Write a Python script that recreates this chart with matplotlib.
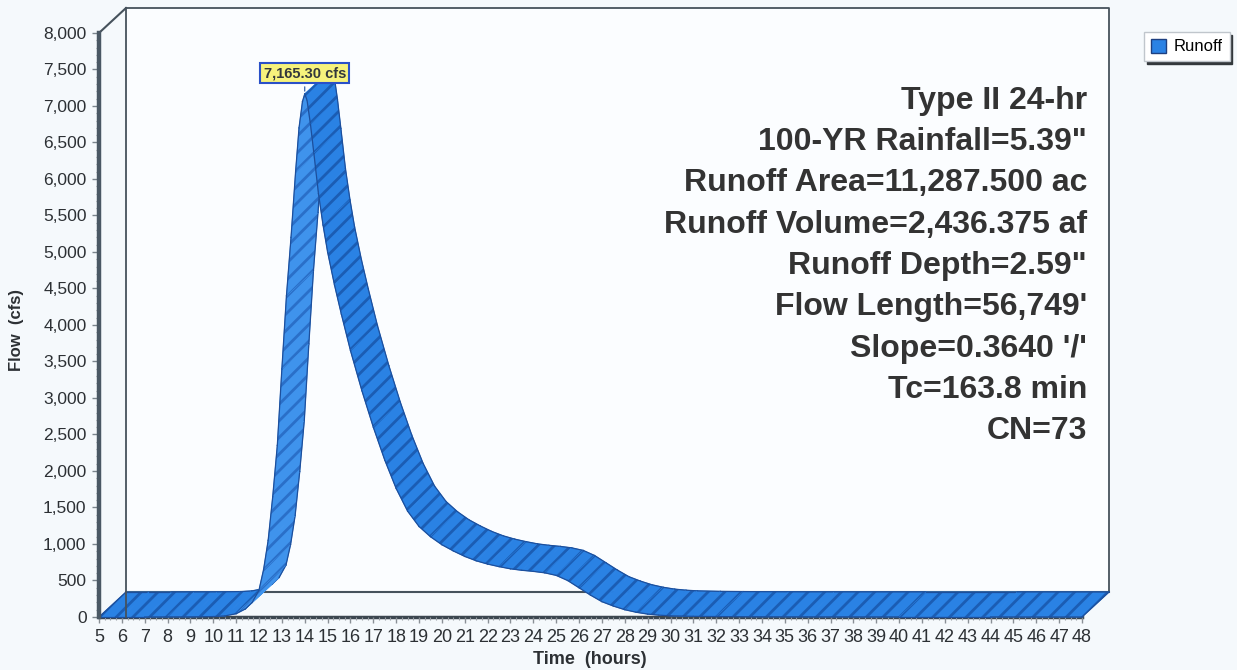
import numpy as np
import matplotlib
matplotlib.use("Agg")
import matplotlib.pyplot as plt
from matplotlib.patches import Polygon, Patch

plt.rcParams["font.family"] = ["Liberation Sans", "DejaVu Sans"]
plt.rcParams["hatch.linewidth"] = 2.0

# runoff hydrograph (front edge of the ribbon)
hours = [5, 6, 7, 8, 9, 10, 10.5, 11, 11.4, 11.7, 12.0, 12.2, 12.4, 12.6, 12.8,
         13.0, 13.2, 13.4, 13.6, 13.75, 13.9, 14.0, 14.1, 14.25, 14.4, 14.6, 14.8,
         15.0, 15.3, 15.6, 16.0, 16.5, 17.0, 17.5, 18.0, 18.5, 19.0, 19.5, 20.0,
         20.5, 21.0, 21.5, 22.0, 22.5, 23.0, 23.5, 24.0, 24.5, 25.0, 25.5, 26.0,
         26.5, 27.0, 27.5, 28.0, 28.5, 29.0, 29.5, 30.0, 31.0, 32.0, 34.0, 36.0,
         40.0, 44.0, 48.0]
flow = [0, 0, 0, 1, 2, 6, 15, 45, 110, 200, 370, 650, 1050, 1650, 2350,
        3400, 4400, 5200, 6100, 6700, 7060, 7165.30, 7080, 6750, 6350, 5800, 5370,
        5000, 4550, 4150, 3650, 3100, 2600, 2150, 1760, 1450, 1240, 1100, 990,
        905, 830, 770, 725, 690, 660, 640, 625, 605, 570, 500, 400,
        300, 210, 150, 100, 65, 40, 25, 16, 9, 6, 3, 2,
        1, 1, 0]

x_ticks = list(range(5, 49))
y_ticks = list(range(0, 8001, 500))

info_lines = [
    "Type II 24-hr",
    '100-YR Rainfall=5.39"',
    "Runoff Area=11,287.500 ac",
    "Runoff Volume=2,436.375 af",
    'Runoff Depth=2.59"',
    "Flow Length=56,749'",
    "Slope=0.3640 '/'",
    "Tc=163.8 min",
    "CN=73",
]

# depth of the 3d ribbon in data units
DX, DY = 1.18, 342

W, H = 1237, 670
fig = plt.figure(figsize=(W / 100, H / 100), dpi=100)
fig.patch.set_facecolor("#f5f9fc")

ax = fig.add_axes([99 / W, 53 / H, 1010 / W, 609 / H])
ax.set_xlim(5, 48 + DX)
ax.set_ylim(0, 8000 + DY)
ax.set_facecolor("none")
for s in ax.spines.values():
    s.set_visible(False)

frame = "#46525c"
x0, x1 = 5, 48

# back wall
ax.add_patch(Polygon([(x0 + DX, DY), (x1 + DX, DY), (x1 + DX, 8000 + DY), (x0 + DX, 8000 + DY)],
                     closed=True, facecolor="#fbfdff", edgecolor="none", zorder=0))
ax.plot([x0 + DX, x1 + DX, x1 + DX], [8000 + DY, 8000 + DY, DY], color=frame, lw=1.3, zorder=1, clip_on=False)
ax.plot([x0 + DX, x1 + DX], [DY, DY], color=frame, lw=1.5, zorder=1, clip_on=False)
ax.plot([x0, x0 + DX], [8000, 8000 + DY], color=frame, lw=1.5, zorder=1, clip_on=False)
# floor front edge
ax.plot([x0, x1], [0, 0], color="#3b464f", lw=2.5, zorder=1, clip_on=False)

# ribbon
rise_fill, rise_hatch = "#3f93ec", "#2a6fc8"
fall_fill, fall_hatch = "#2a82e4", "#1b5db4"
outline = "#1d4f9c"
xs = np.array(hours, dtype=float)
ys = np.array(flow, dtype=float)
for i in range(len(xs) - 1):
    quad = [(xs[i], ys[i]), (xs[i + 1], ys[i + 1]),
            (xs[i + 1] + DX, ys[i + 1] + DY), (xs[i] + DX, ys[i] + DY)]
    rising = (ys[i + 1] - ys[i]) > 100 * (xs[i + 1] - xs[i])
    fc = rise_fill if rising else fall_fill
    hc = rise_hatch if rising else fall_hatch
    z = 3 + i * 0.01
    ax.add_patch(Polygon(quad, closed=True, facecolor=fc, edgecolor=fc, lw=0.6, zorder=z, clip_on=False))
    ax.add_patch(Polygon(quad, closed=True, facecolor="none", edgecolor=hc, lw=0, hatch="//",
                         zorder=z + 0.001, clip_on=False))
    ax.plot(xs[i:i + 2], ys[i:i + 2], color=outline, lw=0.9, zorder=z + 0.002, clip_on=False)
    ax.plot(xs[i:i + 2] + DX, ys[i:i + 2] + DY, color=outline, lw=0.9, zorder=z + 0.002, clip_on=False)
ax.plot([xs[0], xs[0] + DX], [ys[0], ys[0] + DY], color=outline, lw=0.9, zorder=4, clip_on=False)
ax.plot([xs[-1], xs[-1] + DX], [ys[-1], ys[-1] + DY], color=outline, lw=0.9, zorder=4, clip_on=False)

# back wall left edge sits over the ribbon
ax.plot([x0 + DX, x0 + DX], [8000 + DY, 0], color=frame, lw=1.3, zorder=5, clip_on=False)

# front value axis
ax.plot([x0, x0], [0, 8000], color="#4a5864", lw=3.2, zorder=6, clip_on=False)

ax.set_xticks(x_ticks)
ax.set_xticklabels([str(t) for t in x_ticks])
ax.set_xticks(np.arange(5, 48.01, 0.25), minor=True)
ax.set_yticks(y_ticks)
ax.set_yticklabels([f"{v:,}" for v in y_ticks])
ax.set_yticks(np.arange(0, 8001, 100), minor=True)
ax.tick_params(axis="x", which="major", length=4, width=1, color="#8a9096", pad=5,
               labelsize=13, labelcolor="#2c3034")
ax.tick_params(axis="x", which="minor", length=2.5, width=0.8, color="#9aa0a6")
ax.tick_params(axis="y", which="major", length=5, width=1, color="#7a848c", pad=4,
               labelsize=12.5, labelcolor="#2c3034")
ax.tick_params(axis="y", which="minor", length=2.5, width=0.8, color="#9aa0a6")

# peak label
ip = int(np.argmax(ys))
ax.annotate(f"{ys[ip]:,.2f} cfs", xy=(xs[ip], ys[ip]), xytext=(0, 15), textcoords="offset points",
            ha="center", va="center", fontsize=10.5, fontweight="bold", color="#33383c",
            bbox=dict(boxstyle="square,pad=0.22", facecolor="#f6f27c", edgecolor="#2a50c8", lw=1.5),
            arrowprops=dict(arrowstyle="-", color=outline, lw=0.8), zorder=10)

# storm / watershed summary
for k, line in enumerate(info_lines):
    fig.text(1087 / W, 1 - (101 + 41.25 * k) / H, line, ha="right", va="center",
             fontsize=23, fontweight="bold", color="#333333")

fig.text(590 / W, 1 - 659 / H, "Time  (hours)", ha="center", va="center",
         fontsize=13, fontweight="bold", color="#2c3034")
fig.text(17 / W, 1 - 330 / H, "Flow  (cfs)", ha="center", va="center", rotation=90,
         fontsize=12, fontweight="bold", color="#2c3034")

fig.legend(handles=[Patch(facecolor=fall_fill, edgecolor="#1d3f80")], labels=["Runoff"],
           loc="upper left", bbox_to_anchor=(1144 / W, 1 - 32 / H), frameon=True, fancybox=False,
           shadow={"color": "#33383c", "alpha": 1}, framealpha=1, facecolor="white",
           edgecolor="#c0c6cc", fontsize=12, handlelength=0.9, handleheight=0.9,
           handletextpad=0.5, borderpad=0.4, borderaxespad=0)

fig.savefig("out.png", dpi=100, facecolor=fig.get_facecolor())
